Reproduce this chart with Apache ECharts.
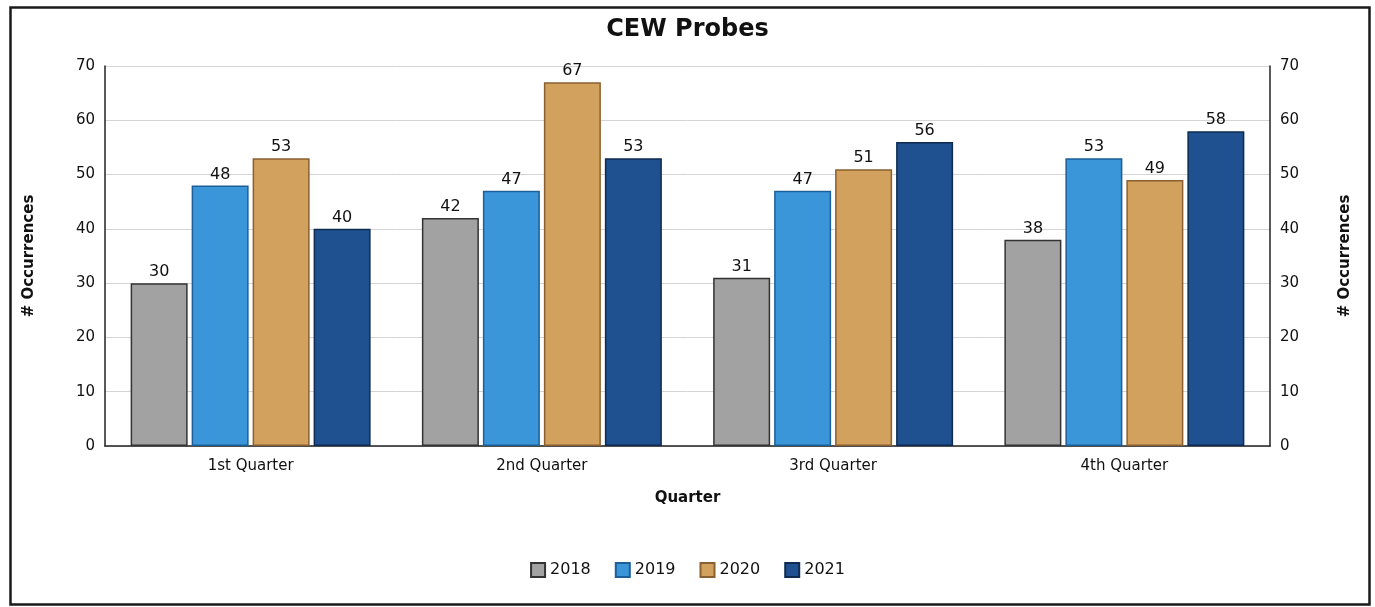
<!DOCTYPE html>
<html>
<head>
<meta charset="utf-8">
<script src="https://cdn.jsdelivr.net/npm/echarts@6/dist/echarts.min.js"></script>
<style>
  html, body { margin: 0; padding: 0; background: #fff; }
  #chart { width: 1375px; height: 607px; }
</style>
</head>
<body>
<div id="chart"></div>
<script>
const quarters = ["1st Quarter", "2nd Quarter", "3rd Quarter", "4th Quarter"];
const years = ["2018", "2019", "2020", "2021"];
const v2018 = [30, 42, 31, 38];
const v2019 = [48, 47, 47, 53];
const v2020 = [53, 67, 51, 49];
const v2021 = [40, 53, 56, 58];

const fillColors = ["#a2a2a2", "#3a96d8", "#d3a15e", "#1f5191"];
const edgeColors = ["#333333", "#1d5f99", "#8a6030", "#0f2b52"];
const font = "DejaVu Sans";

const chart = echarts.init(document.getElementById("chart"));

const seriesData = [v2018, v2019, v2020, v2021];

const yAxisBase = {
  type: "value",
  min: 0,
  max: 70,
  interval: 10,
  name: "# Occurrences",
  nameLocation: "middle",
  nameGap: 68,
  nameTextStyle: { fontFamily: font, fontSize: 15, fontWeight: "bold", color: "#111" },
  axisLine: { show: true, lineStyle: { color: "#222", width: 1.5 } },
  axisTick: { show: false },
  axisLabel: { fontFamily: font, fontSize: 15, color: "#111", margin: 10 }
};

chart.setOption({
  animation: false,
  backgroundColor: "#fff",
  graphic: [{
    type: "rect",
    left: 8, top: 5,
    shape: { width: 1359, height: 597 },
    style: { fill: "none", stroke: "#1a1a1a", lineWidth: 2.5 },
    silent: true
  }],
  title: {
    text: "CEW Probes",
    left: "center",
    top: 13,
    textStyle: { fontFamily: font, fontSize: 24, fontWeight: "bold", color: "#111" }
  },
  legend: {
    data: years,
    bottom: 24,
    left: "center",
    icon: "rect",
    itemWidth: 14,
    itemHeight: 14,
    itemGap: 24,
    textStyle: { fontFamily: font, fontSize: 16, color: "#111" }
  },
  grid: { left: 105, right: 105, top: 66, bottom: 161 },
  xAxis: {
    type: "category",
    data: quarters,
    name: "Quarter",
    nameLocation: "middle",
    nameGap: 45,
    nameTextStyle: { fontFamily: font, fontSize: 15, fontWeight: "bold", color: "#111" },
    axisLine: { lineStyle: { color: "#222", width: 1.5 } },
    axisTick: { show: false },
    axisLabel: { fontFamily: font, fontSize: 15, color: "#111", margin: 13 }
  },
  yAxis: [
    Object.assign({}, yAxisBase, {
      position: "left",
      splitLine: { show: true, lineStyle: { color: "#d4d4d4", width: 1 } }
    }),
    Object.assign({}, yAxisBase, {
      position: "right",
      splitLine: { show: false }
    })
  ],
  series: years.map((y, i) => ({
    name: y,
    type: "bar",
    data: seriesData[i],
    barWidth: 57,
    barGap: "7%",
    itemStyle: { color: fillColors[i], borderColor: edgeColors[i], borderWidth: 1.5 },
    label: {
      show: true,
      position: "top",
      distance: 3,
      fontFamily: font,
      fontSize: 16,
      color: "#111"
    }
  }))
});
</script>
</body>
</html>
